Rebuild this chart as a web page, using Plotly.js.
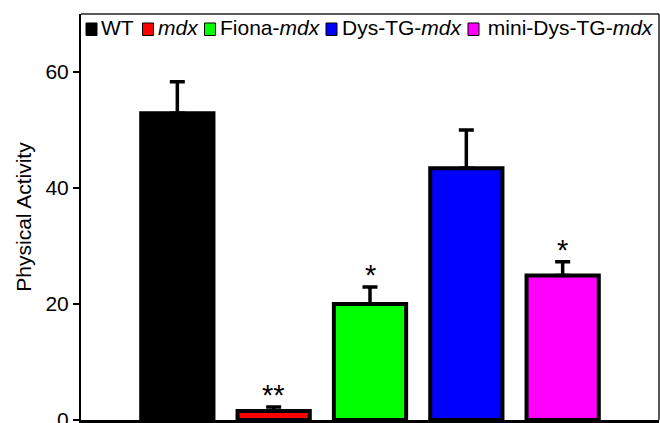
<!DOCTYPE html>
<html>
<head>
<meta charset="utf-8">
<script src="https://cdn.plot.ly/plotly-3.0.1.min.js"></script>
<style>
  html, body { margin: 0; padding: 0; background: #fff; }
  #chart { width: 660px; height: 423px; }
</style>
</head>
<body>
<div id="chart"></div>
<script>
// ---- data ----
const categories = ['WT', 'mdx', 'Fiona-mdx', 'Dys-TG-mdx', 'mini-Dys-TG-mdx'];
const legendLabels = ['WT', '<i>mdx</i>', 'Fiona-<i>mdx</i>', 'Dys-TG-<i>mdx</i>', ' mini-Dys-TG-<i>mdx</i>'];
const activity = [52.9, 1.55, 20.0, 43.4, 24.9];
const sem = [5.4, 0.7, 2.95, 6.6, 2.4];
const significance = ['', '**', '*', '', '*'];
const barColors = ['#000000', '#ff0000', '#00ff00', '#0000ff', '#ff00ff'];
const yTickValues = [0, 20, 40, 60];
const yTitle = 'Physical Activity';

// ---- layout constants ----
const W = 660, H = 423;
const M = { l: 81, r: 1, t: 14, b: 2.5 };
const plotW = W - M.l - M.r, plotH = H - M.t - M.b;
const FONT = '"Liberation Sans", Arial, Helvetica, sans-serif';
function px2paperX(px) { return (px - M.l) / plotW; }
function px2paperY(py) { return (H - M.b - py) / plotH; }

const trace = {
  type: 'bar',
  x: categories,
  y: activity,
  width: 0.75,
  marker: { color: barColors, line: { color: '#000', width: 4 } },
  error_y: {
    type: 'data', array: sem, arrayminus: sem.map(() => 0), symmetric: false,
    color: '#000', thickness: 3.5, width: 7.5
  },
  showlegend: false,
  hoverinfo: 'skip'
};

// significance stars
const annotations = [];
categories.forEach((c, i) => {
  if (significance[i]) {
    annotations.push({
      x: c, y: activity[i] + sem[i], xref: 'x', yref: 'y',
      text: significance[i], showarrow: false,
      xanchor: 'center', yanchor: 'bottom', yshift: -5, borderpad: 0,
      font: { family: FONT, size: 29, color: '#000' }
    });
  }
});

// custom legend (squares + labels) along the top inside the frame
const legendSquareLeft = [86, 142.5, 204.5, 326, 468];
const legendTextLeft = [100, 157, 219, 341, 481];
const legendCenterY = 29;
const shapes = [];
categories.forEach((c, i) => {
  shapes.push({
    type: 'rect', xref: 'paper', yref: 'paper',
    x0: px2paperX(legendSquareLeft[i]), x1: px2paperX(legendSquareLeft[i] + 11),
    y0: px2paperY(legendCenterY + 6.5), y1: px2paperY(legendCenterY - 6),
    fillcolor: barColors[i], line: { color: '#000', width: 1 }
  });
  annotations.push({
    x: px2paperX(legendTextLeft[i]), y: px2paperY(legendCenterY - 1),
    xref: 'paper', yref: 'paper', xanchor: 'left', yanchor: 'middle',
    text: legendLabels[i], showarrow: false, borderpad: 0,
    font: { family: FONT, size: 21, color: '#000' }
  });
});
// top and right frame lines
shapes.push({ type: 'line', xref: 'paper', yref: 'paper', x0: 0, x1: 1, y0: 1, y1: 1,
  line: { color: '#222', width: 1.5 } });
shapes.push({ type: 'line', xref: 'paper', yref: 'paper', x0: 1, x1: 1, y0: 0, y1: 1,
  line: { color: '#222', width: 1.5 } });

const layout = {
  width: W, height: H,
  margin: M,
  paper_bgcolor: '#fff', plot_bgcolor: '#fff',
  font: { family: FONT, size: 21, color: '#000' },
  xaxis: {
    type: 'category', range: [-1, 5], showticklabels: false, ticks: '',
    showgrid: false, zeroline: false, showline: true, linecolor: '#000', linewidth: 4,
    fixedrange: true
  },
  yaxis: {
    range: [0, 70], tickvals: yTickValues, ticktext: yTickValues.map(String),
    ticks: 'outside', ticklen: 6, tickwidth: 1.5, tickcolor: '#000',
    ticklabeloverflow: 'allow',
    showgrid: false, zeroline: false, showline: true, linecolor: '#000', linewidth: 2,
    tickfont: { family: FONT, size: 21, color: '#000' },
    title: { text: yTitle, font: { family: FONT, size: 21, color: '#000' }, standoff: 8 },
    fixedrange: true
  },
  shapes: shapes,
  annotations: annotations,
  showlegend: false
};

Plotly.newPlot('chart', [trace], layout, { displayModeBar: false, staticPlot: true });
</script>
</body>
</html>
